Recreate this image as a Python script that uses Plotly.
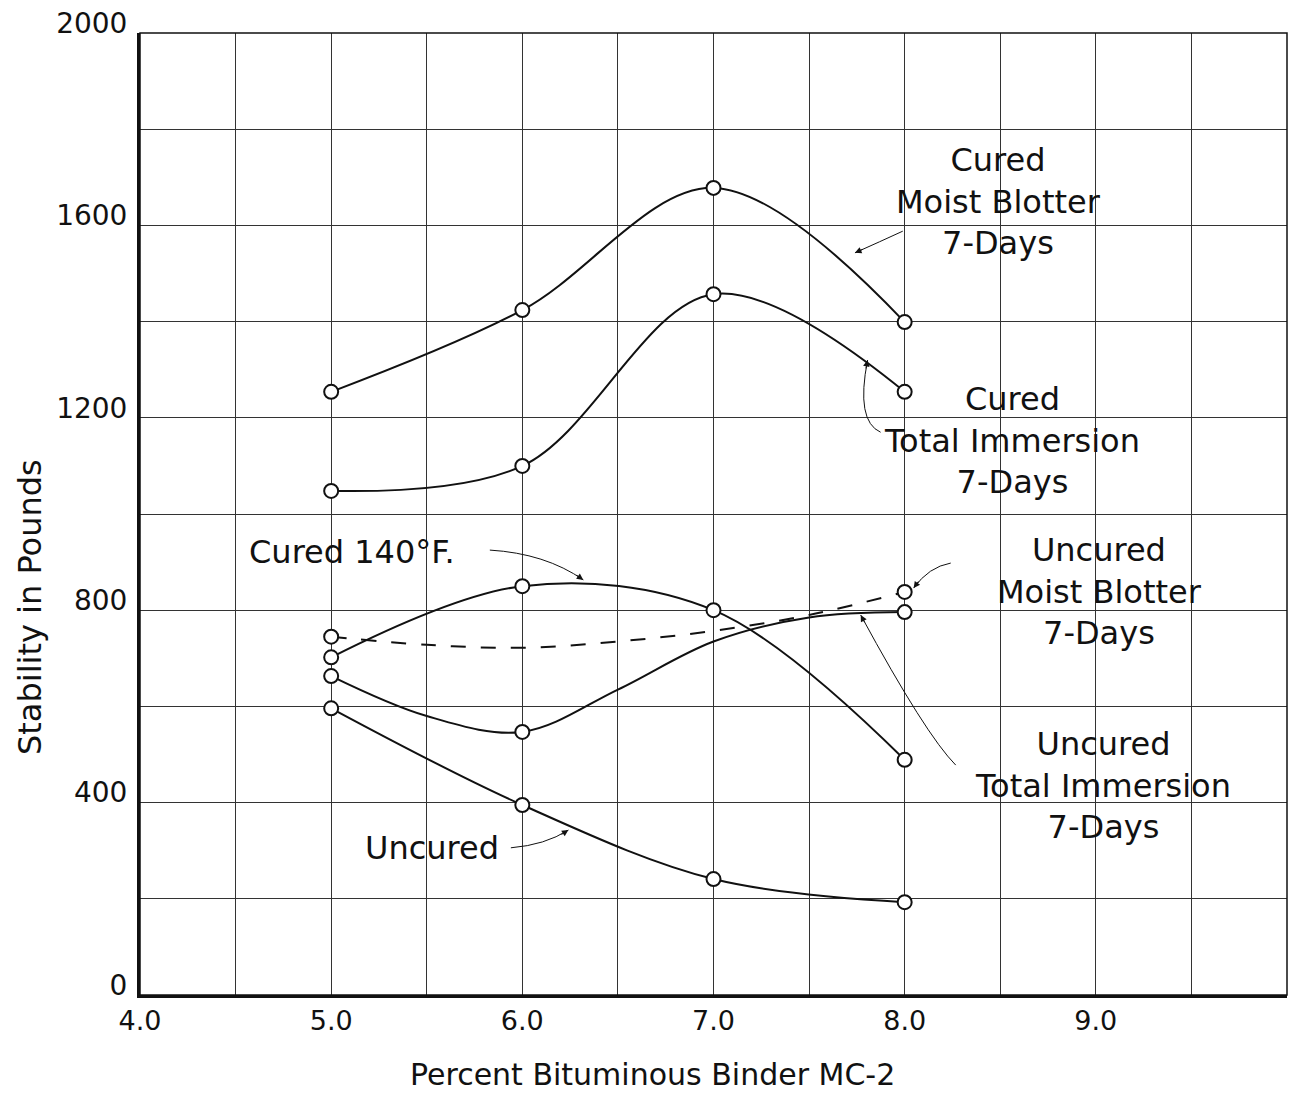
import plotly.graph_objects as go

# ---- data ----
binder_pct = [5.0, 6.0, 7.0, 8.0]

cured_moist_blotter = [1254, 1424, 1678, 1399]
cured_total_immersion = [1048, 1100, 1457, 1254]
cured_140f = [702, 850, 800, 489]
uncured = [596, 395, 241, 193]

uncured_mb_pct = [5.0, 8.0]
uncured_mb_pts = [745, 838]
uncured_mb_curve_pct = [5.0, 5.5, 6.0, 6.5, 7.0, 7.5, 8.0]
uncured_mb_curve = [745, 728, 722, 735, 757, 790, 838]

uncured_ti_pct = [5.0, 6.0, 8.0]
uncured_ti_pts = [663, 547, 796]
uncured_ti_curve_pct = [5.0, 5.5, 6.0, 6.5, 7.0, 7.5, 8.0]
uncured_ti_curve = [663, 580, 547, 635, 735, 785, 796]

x_tick_vals = [4.0, 4.5, 5.0, 5.5, 6.0, 6.5, 7.0, 7.5, 8.0, 8.5, 9.0, 9.5, 10.0]
x_tick_text = ["4.0", "", "5.0", "", "6.0", "", "7.0", "", "8.0", "", "9.0", "", ""]
y_tick_vals = [0, 200, 400, 600, 800, 1000, 1200, 1400, 1600, 1800, 2000]
y_tick_text = ["0", "", "400", "", "800", "", "1200", "", "1600", "", "2000"]

FONT = "DejaVu Sans"
INK = "#111111"

W, H = 1298, 1097
ML, MR, MT, MB = 140, 11, 33, 102
X_RANGE = [4.0, 10.0]
Y_RANGE = [0, 2000]
PX_PER_X = (W - ML - MR) / (X_RANGE[1] - X_RANGE[0])
PX_PER_Y = (H - MT - MB) / (Y_RANGE[1] - Y_RANGE[0])

fig = go.Figure()

def add_curve(x, y, dash="solid"):
    fig.add_trace(go.Scatter(x=x, y=y, mode="lines",
                             line=dict(color=INK, width=2, shape="spline", smoothing=1.0, dash=dash),
                             hoverinfo="skip", showlegend=False))

def add_markers(x, y):
    fig.add_trace(go.Scatter(x=x, y=y, mode="markers",
                             marker=dict(symbol="circle", size=14, color="white",
                                         line=dict(width=2, color=INK)),
                             showlegend=False))

add_curve(binder_pct, cured_moist_blotter)
add_curve(binder_pct, cured_total_immersion)
add_curve(binder_pct, cured_140f)
add_curve(binder_pct, uncured)
add_curve(uncured_mb_curve_pct, uncured_mb_curve, dash="longdash")
add_curve(uncured_ti_curve_pct, uncured_ti_curve)

add_markers(binder_pct, cured_moist_blotter)
add_markers(binder_pct, cured_total_immersion)
add_markers(binder_pct, cured_140f)
add_markers(binder_pct, uncured)
add_markers(uncured_mb_pct, uncured_mb_pts)
add_markers(uncured_ti_pct, uncured_ti_pts)

def label(text, x, y, size=32):
    fig.add_annotation(x=x, y=y, text=text, showarrow=False, xref="x", yref="y",
                       font=dict(family=FONT, size=size, color=INK), align="center")

def curved_arrow(tail, ctrl, tip):
    (x0, y0), (cx, cy), (x1, y1) = tail, ctrl, tip
    fig.add_shape(type="path", xref="x", yref="y",
                  path=f"M {x0},{y0} Q {cx},{cy} {x1},{y1}",
                  line=dict(color=INK, width=1))
    # arrowhead along tangent at the tip
    dxp = (x1 - cx) * PX_PER_X
    dyp = -(y1 - cy) * PX_PER_Y
    n = (dxp ** 2 + dyp ** 2) ** 0.5 or 1.0
    fig.add_annotation(x=x1, y=y1, ax=-dxp / n * 10, ay=-dyp / n * 10,
                       xref="x", yref="y", text="", showarrow=True,
                       arrowhead=2, arrowsize=1.3, arrowwidth=1, arrowcolor=INK)

label("Cured<br>Moist Blotter<br>7-Days", 8.49, 1650)
curved_arrow((7.99, 1588), (7.87, 1566), (7.74, 1543))

label("Cured<br>Total Immersion<br>7-Days", 8.56, 1152)
curved_arrow((7.874, 1170), (7.743, 1193), (7.806, 1320))

label("Cured 140°F.", 5.11, 920)
curved_arrow((5.83, 925), (6.12, 918), (6.319, 863))

label("Uncured<br>Moist Blotter<br>7-Days", 9.02, 838)
curved_arrow((8.241, 898), (8.126, 890), (8.047, 846))

label("Uncured<br>Total Immersion<br>7-Days", 9.04, 435)
curved_arrow((8.267, 478), (8.11, 541), (7.77, 790))

label("Uncured", 5.53, 306)
curved_arrow((5.94, 306), (6.12, 312), (6.241, 343))

# axis titles placed as in the reference
fig.add_annotation(text="Percent Bituminous Binder MC-2", xref="paper", yref="paper",
                   x=(652 - ML) / (W - ML - MR), y=-(1074 - (H - MB)) / (H - MT - MB),
                   xanchor="center", yanchor="middle",
                   showarrow=False, font=dict(family=FONT, size=30, color=INK))
fig.add_annotation(text="Stability in Pounds", xref="paper", yref="paper", textangle=-90,
                   x=(30 - ML) / (W - ML - MR), y=((H - MB) - 607) / (H - MT - MB),
                   xanchor="center", yanchor="middle",
                   showarrow=False, font=dict(family=FONT, size=32, color=INK))

# thin frame for the top and right sides
fig.add_shape(type="rect", xref="paper", yref="paper", x0=0, x1=1, y0=0, y1=1,
              line=dict(color=INK, width=1.5), layer="above")

fig.update_layout(
    width=W, height=H,
    margin=dict(l=ML, r=MR, t=MT, b=MB, autoexpand=False),
    paper_bgcolor="white", plot_bgcolor="white",
    font=dict(family=FONT, color=INK),
    showlegend=False,
)

fig.update_xaxes(
    range=X_RANGE, tickmode="array", tickvals=x_tick_vals, ticktext=x_tick_text,
    showgrid=True, gridcolor="#333333", gridwidth=1,
    showline=True, linecolor=INK, linewidth=3, mirror=False,
    ticks="", tickfont=dict(family=FONT, size=27, color=INK),
    zeroline=False, automargin=False,
)
fig.update_yaxes(
    range=Y_RANGE, tickmode="array", tickvals=y_tick_vals, ticktext=y_tick_text,
    showgrid=True, gridcolor="#333333", gridwidth=1,
    showline=True, linecolor=INK, linewidth=3, mirror=False,
    ticks="", tickfont=dict(family=FONT, size=28, color=INK), ticklabelshift=-10,
    ticklabelstandoff=4,
    zeroline=False, automargin=False,
)

fig.write_html("out.html")
